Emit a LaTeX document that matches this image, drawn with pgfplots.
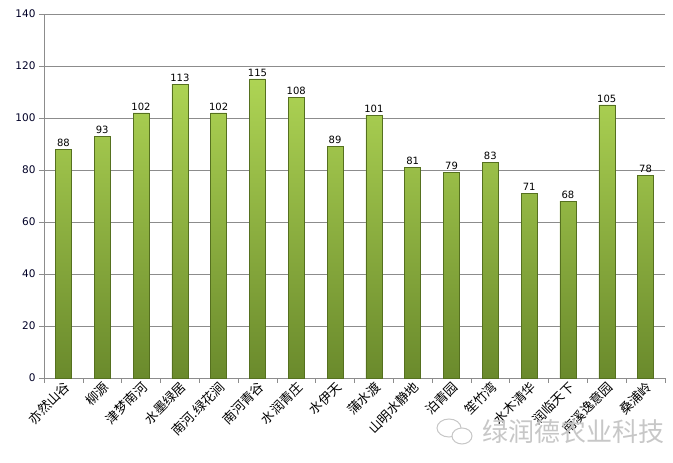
\documentclass[border=0pt]{standalone}
\usepackage{pgfplots}
\pgfplotsset{compat=1.18}
\usepackage{fontspec}
\setmainfont{DejaVu Sans}
\newfontfamily\cjk{Noto Sans CJK SC}
\definecolor{bartop}{HTML}{AED454}
\definecolor{barbot}{HTML}{6A8A2C}
\definecolor{baredge}{HTML}{55701F}
\definecolor{gridc}{HTML}{8C8C8C}
\begin{document}
\begin{tikzpicture}
\begin{axis}[
  at={(0,0)}, anchor=south west,
  scale only axis, width=621pt, height=364pt,
  xmin=-0.5, xmax=15.5, ymin=0, ymax=140,
  ytick={0,20,...,140},
  /pgf/number format/assume math mode=true,
  ymajorgrids, grid style={gridc, line width=0.6pt},
  axis line style={gridc, line width=0.6pt},
  axis x line*=bottom, axis y line*=left,
  tick align=outside, major tick length=5pt,
  tick style={gridc, line width=0.6pt},
  xtick={0,...,15}, major x tick style={draw=none},
  minor xtick={-0.5,0.5,...,15.5}, minor tick length=5pt,
  minor x tick style={gridc, line width=0.6pt},
  xticklabels={亦然山谷,柳源,津梦南河,水墨绿居,南河.绿花涧,南河青谷,水润青庄,水伊天,蒲水渡,山明水静地,泊青园,笙竹湾,水木清华,润临天下,南溪逸意园,桑浦岭},
  x tick label style={font=\cjk\fontsize{13pt}{15pt}\selectfont, rotate=45, anchor=east, yshift=-4pt, xshift=5pt},
  y tick label style={font=\fontsize{10.5pt}{12pt}\selectfont, color=black!85!blue},
  ybar, bar width=16pt,
  nodes near coords,
  nodes near coords style={font=\fontsize{10pt}{12pt}\selectfont, black, yshift=-1pt},
  clip=false,
]
\addplot[draw=baredge, line width=0.5pt, top color=bartop, bottom color=barbot, shading angle=0] coordinates {
(0,88) (1,93) (2,102) (3,113) (4,102) (5,115) (6,108) (7,89) (8,101) (9,81) (10,79) (11,83) (12,71) (13,68) (14,105) (15,78)};
\end{axis}
\node[text=black!22, font=\cjk\fontsize{26pt}{28pt}\selectfont, anchor=center] at (529pt,-54pt) {绿润德农业科技};
\draw[black!22, line width=1pt] (405pt,-50pt) ellipse (12pt and 9pt);
\draw[black!22, line width=1pt, fill=white] (418pt,-58pt) ellipse (10pt and 8pt);
\pgfresetboundingbox
\useasboundingbox (-44pt,-85pt) rectangle (629pt,378pt);
\end{tikzpicture}
\end{document}
